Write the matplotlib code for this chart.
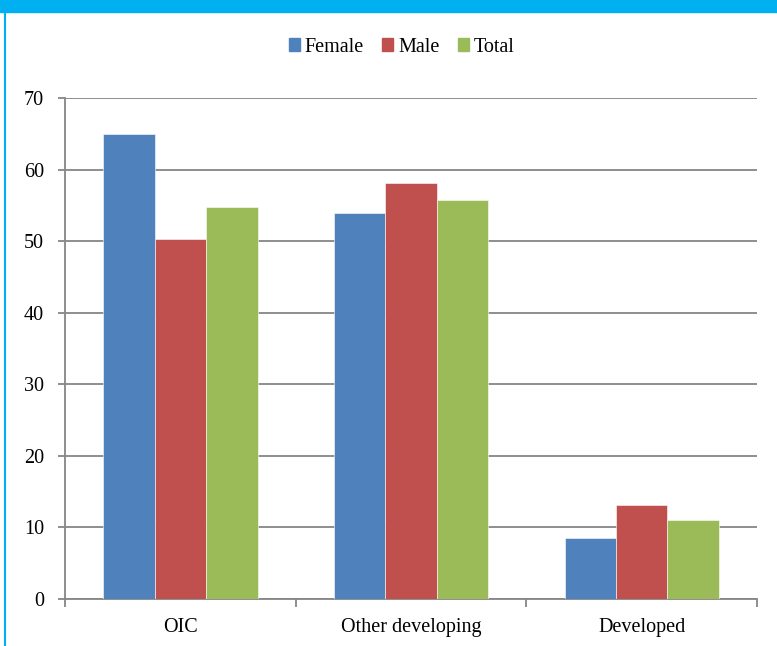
import numpy as np
import matplotlib.pyplot as plt
from matplotlib.patches import Rectangle
from matplotlib.lines import Line2D

categories = ['OIC', 'Other developing', 'Developed']
female = [65.0, 53.9, 8.5]
male = [50.3, 58.1, 13.1]
total = [54.8, 55.8, 11.0]
series_names = ['Female', 'Male', 'Total']
series_colors = ['#4F81BD', '#C0504D', '#9BBB59']

plt.rcParams['font.family'] = ['Liberation Serif', 'DejaVu Serif']

fig = plt.figure(figsize=(7.77, 6.46), dpi=100)
ax = fig.add_axes([0.0837, 0.0728, 0.8906, 0.7755])

index = np.arange(len(categories))
bar_width = 0.223
grid_color = '#868686'

for i, (vals, name, col) in enumerate(zip([female, male, total], series_names, series_colors)):
    ax.bar(index + (i - 1) * bar_width, vals, bar_width, color=col,
           edgecolor='white', linewidth=0.4, label=name, zorder=3)

ax.set_xlim(-0.5, 2.5)
ax.set_ylim(0, 70)
ax.set_yticks(range(0, 71, 10))
ax.yaxis.grid(True, color=grid_color, linewidth=1.3, zorder=0)
ax.set_axisbelow(True)

ax.set_xticks(index)
ax.set_xticklabels(categories)
ax.set_xticks([-0.5, 0.5, 1.5, 2.5], minor=True)
ax.tick_params(axis='x', which='major', length=0, pad=14, labelsize=14.5)
ax.tick_params(axis='x', which='minor', length=6, color=grid_color, width=1.3)
ax.tick_params(axis='y', length=5, color=grid_color, width=1.3, labelsize=14.5, pad=10)

for side in ['top', 'right']:
    ax.spines[side].set_visible(False)
for side in ['left', 'bottom']:
    ax.spines[side].set_color(grid_color)
    ax.spines[side].set_linewidth(1.3)

handles = [Rectangle((0, 0), 1, 1, color=c) for c in series_colors]
fig.legend(handles, series_names, loc='center', bbox_to_anchor=(0.517, 0.927),
           ncol=3, frameon=False, fontsize=14.5, handlelength=0.55, handleheight=0.55,
           handletextpad=0.25, columnspacing=0.9)

# frame decoration: cyan band on top, thin line at left
fig.patches.append(Rectangle((0, 1 - 12 / 646), 1, 12 / 646, transform=fig.transFigure,
                             color='#00B0F0', zorder=10))
fig.lines.append(Line2D([5 / 777, 5 / 777], [0, 1 - 12 / 646], transform=fig.transFigure,
                        color='#00B0F0', linewidth=1.5))

fig.savefig('out.png', dpi=100)
